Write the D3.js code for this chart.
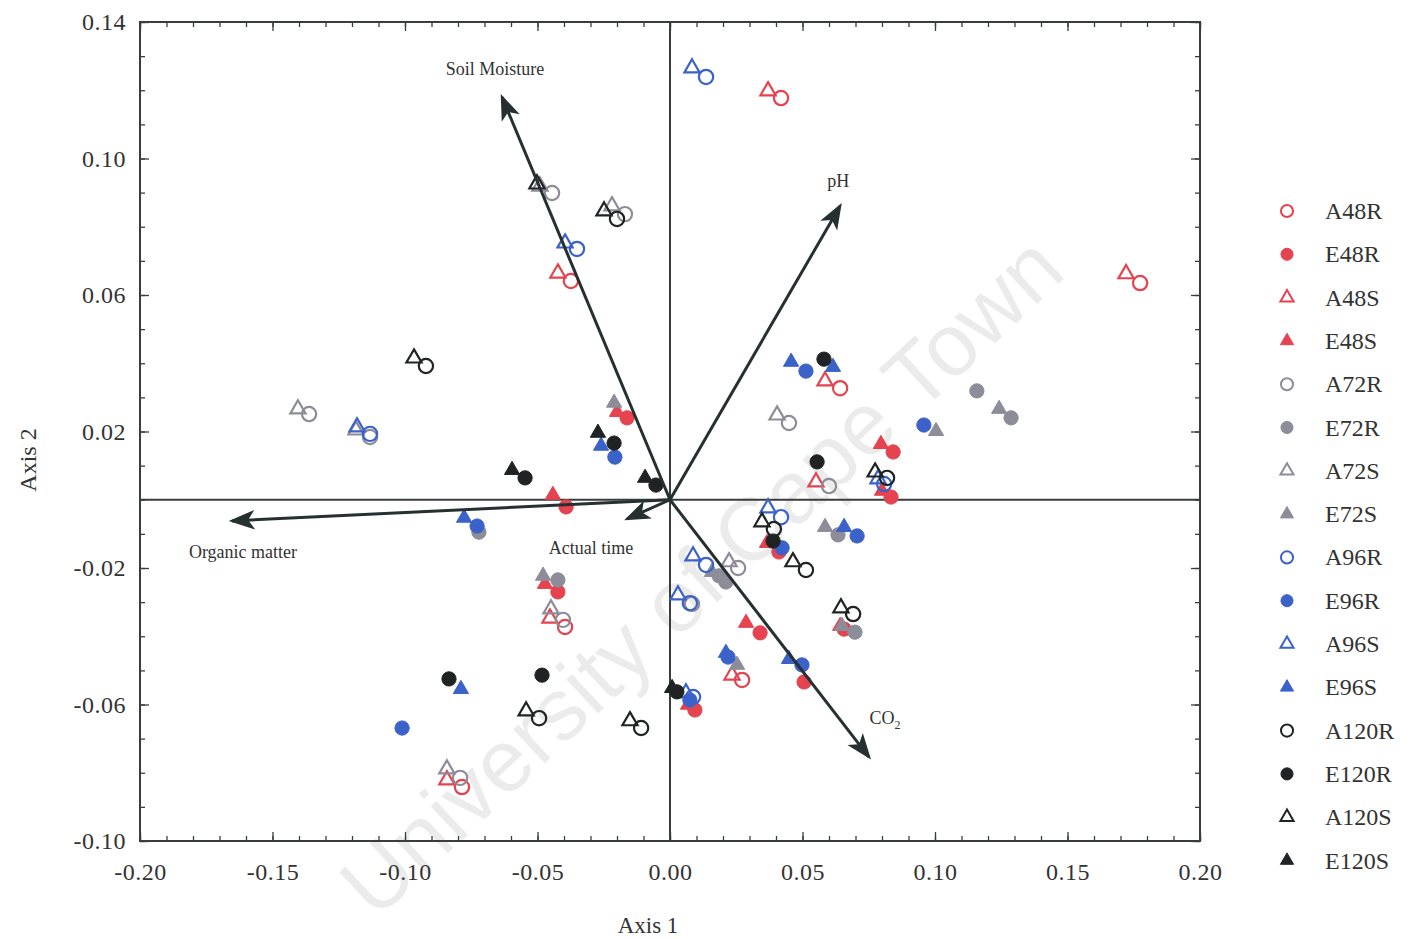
<!DOCTYPE html>
<html><head><meta charset="utf-8">
<script src="https://cdn.jsdelivr.net/npm/d3@7"></script>
<style>
body{margin:0;background:#fff;}
text{font-family:"Liberation Serif","Times New Roman",serif;}
</style>
</head><body>
<svg id="chart" width="1411" height="939"></svg>
<script>
// ---------------- DATA ----------------
const seriesNames = ["A48R","E48R","A48S","E48S","A72R","E72R","A72S","E72S","A96R","E96R","A96S","E96S","A120R","E120R","A120S","E120S"];
const groupColors = {"48":"#e4434f","72":"#8d8d99","96":"#3b62c9","120":"#1f2323"};

const A48R = [[0.0419,0.1177],[0.1774,0.0635],[-0.0374,0.0641],[0.0642,0.0327],[-0.0396,-0.0373],[0.0272,-0.0528],[-0.0785,-0.0842]];
const A48S = [[0.0370,0.1198],[0.1721,0.0662],[-0.0423,0.0664],[0.0585,0.0348],[0.0551,0.0052],[-0.0453,-0.0347],[0.0234,-0.0514],[-0.0842,-0.0821]];
const E48R = [[-0.0162,0.0240],[-0.0392,-0.0021],[0.0842,0.0140],[0.0834,0.0008],[0.0411,-0.0153],[0.0340,-0.0390],[-0.0423,-0.0270],[0.0506,-0.0534],[0.0094,-0.0616],[0.0657,-0.0379]];
const E48S = [[-0.0200,0.0257],[-0.0442,0.0014],[0.0796,0.0163],[0.0800,0.0026],[0.0287,-0.0361],[-0.0472,-0.0247],[0.0068,-0.0601],[0.0642,-0.0370],[0.0366,-0.0127]];
const A72R = [[-0.0445,0.0899],[-0.0170,0.0837],[-0.1362,0.0251],[0.0449,0.0225],[0.0600,0.0040],[0.0257,-0.0200],[-0.0404,-0.0352],[-0.0792,-0.0815],[-0.1132,0.0184],[0.0083,-0.0305]];
const A72S = [[-0.0491,0.0919],[-0.0219,0.0861],[-0.1404,0.0266],[0.0404,0.0248],[0.0223,-0.0182],[-0.0449,-0.0320],[-0.0842,-0.0789],[-0.1185,0.0204]];
const E72R = [[0.1158,0.0319],[0.1287,0.0240],[0.0634,-0.0103],[0.0185,-0.0223],[0.0211,-0.0241],[0.0698,-0.0388],[-0.0423,-0.0235],[-0.0721,-0.0095]];
const E72S = [[-0.0211,0.0284],[0.1242,0.0266],[0.1004,0.0201],[0.0585,-0.0080],[-0.0479,-0.0223],[0.0253,-0.0484],[0.0649,-0.0370],[0.0158,-0.0212]];
const A96R = [[0.0136,0.1239],[-0.0351,0.0735],[-0.1132,0.0193],[0.0808,0.0046],[0.0419,-0.0051],[0.0136,-0.0191],[0.0075,-0.0303],[0.0087,-0.0578]];
const A96S = [[0.0083,0.1265],[-0.0396,0.0752],[-0.1181,0.0213],[0.0370,-0.0024],[0.0087,-0.0165],[0.0030,-0.0279],[0.0785,0.0061],[0.0060,-0.0566]];
const E96R = [[-0.0208,0.0125],[-0.0728,-0.0077],[0.0513,0.0377],[0.0958,0.0219],[0.0706,-0.0106],[0.0423,-0.0141],[0.0219,-0.0461],[0.0498,-0.0484],[-0.1011,-0.0669],[0.0075,-0.0587]];
const E96S = [[-0.0260,0.0158],[-0.0777,-0.0053],[0.0457,0.0404],[0.0615,0.0389],[0.0657,-0.0080],[0.0449,-0.0467],[-0.0789,-0.0555],[0.0211,-0.0449]];
const A120R = [[-0.0200,0.0823],[-0.0921,0.0392],[0.0819,0.0064],[0.0392,-0.0086],[0.0513,-0.0206],[0.0691,-0.0335],[-0.0494,-0.0640],[-0.0109,-0.0669]];
const A120S = [[-0.0502,0.0925],[-0.0249,0.0846],[-0.0966,0.0415],[0.0774,0.0081],[0.0347,-0.0065],[0.0464,-0.0182],[0.0645,-0.0317],[-0.0543,-0.0619],[-0.0151,-0.0648]];
const E120R = [[-0.0211,0.0166],[-0.0547,0.0064],[-0.0053,0.0043],[0.0581,0.0412],[0.0555,0.0111],[0.0389,-0.0121],[-0.0834,-0.0525],[-0.0483,-0.0514],[0.0026,-0.0563]];
const E120S = [[-0.0272,0.0196],[-0.0596,0.0087],[-0.0094,0.0064],[0.0008,-0.0552]];

const seriesData = {A48R,E48R,A48S,E48S,A72R,E72R,A72S,E72S,A96R,E96R,A96S,E96S,A120R,E120R,A120S,E120S};

// Biplot vectors
const vectorNames = ["Soil Moisture","pH","Organic matter","Actual time","CO2"];
const vectorX = [-0.0634, 0.0642, -0.1653, -0.0162, 0.0751];
const vectorY = [0.1180, 0.0861, -0.0062, -0.0056, -0.0754];

// Axis ticks
const xTickValues = [-0.20,-0.15,-0.10,-0.05,0.00,0.05,0.10,0.15,0.20];
const xTickLabels = ["-0.20","-0.15","-0.10","-0.05","0.00","0.05","0.10","0.15","0.20"];
const yTickValues = [0.14,0.10,0.06,0.02,-0.02,-0.06,-0.10];
const yTickLabels = ["0.14","0.10","0.06","0.02","-0.02","-0.06","-0.10"];
const xTitle = "Axis 1", yTitle = "Axis 2";

// ---------------- CHART ----------------
const svg = d3.select("#chart");
const L = 140, R = 1200, T = 22, B = 841;
const x = d3.scaleLinear().domain([-0.20,0.20]).range([L,R]);
const y = d3.scaleLinear().domain([-0.10,0.14]).range([B,T]);
const axisColor = "#3a3d3d";

// watermark
svg.append("text")
  .attr("transform","translate(722,598) rotate(-43)")
  .attr("text-anchor","middle")
  .style("font-family","'Liberation Sans',Arial,sans-serif")
  .style("font-size","88px")
  .attr("fill","#000").attr("fill-opacity",0.08)
  .text("University of Cape Town");

// minor & major ticks (inside)
const minorX = d3.range(-20,21).map(d=>d/100);
const minorY = d3.range(-10,15).map(d=>d/100);
function styleAxis(g){ g.select(".domain").remove(); g.selectAll("line").attr("stroke",axisColor).attr("stroke-width",1.3); }

svg.append("g").attr("transform",`translate(0,${B})`)
  .call(d3.axisBottom(x).tickValues(minorX).tickSize(-5).tickFormat("")).call(styleAxis);
svg.append("g").attr("transform",`translate(0,${T})`)
  .call(d3.axisTop(x).tickValues(minorX).tickSize(-5).tickFormat("")).call(styleAxis);
svg.append("g").attr("transform",`translate(${L},0)`)
  .call(d3.axisLeft(y).tickValues(minorY).tickSize(-5).tickFormat("")).call(styleAxis);
svg.append("g").attr("transform",`translate(${R},0)`)
  .call(d3.axisRight(y).tickValues(minorY).tickSize(-5).tickFormat("")).call(styleAxis);

const gx = svg.append("g").attr("transform",`translate(0,${B})`)
  .call(d3.axisBottom(x).tickValues(xTickValues).tickSize(-9).tickPadding(22)
    .tickFormat((d,i)=>xTickLabels[i])).call(styleAxis);
gx.selectAll("text").style("font-size","24px").style("letter-spacing","0.5px").attr("fill","#333");
svg.append("g").attr("transform",`translate(0,${T})`)
  .call(d3.axisTop(x).tickValues(xTickValues).tickSize(-9).tickFormat("")).call(styleAxis);

const gy = svg.append("g").attr("transform",`translate(${L},0)`)
  .call(d3.axisLeft(y).tickValues(yTickValues).tickSize(-9).tickPadding(14)
    .tickFormat((d,i)=>yTickLabels[i])).call(styleAxis);
gy.selectAll("text").style("font-size","24px").style("letter-spacing","0.5px").attr("fill","#333");
svg.append("g").attr("transform",`translate(${R},0)`)
  .call(d3.axisRight(y).tickValues(yTickValues).tickSize(-9).tickFormat("")).call(styleAxis);

// frame
svg.append("rect").attr("x",L).attr("y",T).attr("width",R-L).attr("height",B-T)
  .attr("fill","none").attr("stroke",axisColor).attr("stroke-width",2);

// zero lines
svg.append("line").attr("x1",x(0)).attr("x2",x(0)).attr("y1",T).attr("y2",B)
  .attr("stroke",axisColor).attr("stroke-width",2);
svg.append("line").attr("x1",L).attr("x2",R).attr("y1",y(0)).attr("y2",y(0))
  .attr("stroke",axisColor).attr("stroke-width",2);

// axis titles
svg.append("text").attr("x",648).attr("y",933).attr("text-anchor","middle")
  .style("font-size","23px").attr("fill","#333").text(xTitle);
svg.append("text").attr("transform","translate(36,460) rotate(-90)").attr("text-anchor","middle")
  .style("font-size","24px").attr("fill","#333").text(yTitle);

// ---------------- POINTS ----------------
function seriesStyle(name){
  const grp = name.slice(1,-1);
  return {color: groupColors[grp], filled: name[0]==="E", tri: name.slice(-1)==="S"};
}
const symCircle = d3.symbol().type(d3.symbolCircle).size(160);
const symTri = d3.symbol().type(d3.symbolTriangle).size(100);
const ptLayer = svg.append("g");
seriesNames.forEach(name=>{
  const st = seriesStyle(name);
  ptLayer.append("g").selectAll("path").data(seriesData[name]).join("path")
    .attr("transform",d=>`translate(${x(d[0])},${y(d[1])})`)
    .attr("d", st.tri ? symTri : symCircle)
    .attr("fill", st.filled ? st.color : "none")
    .attr("stroke", st.color)
    .attr("stroke-width", st.filled ? 1 : 2.2);
});

// ---------------- VECTORS ----------------
const defs = svg.append("defs");
defs.append("marker").attr("id","ah").attr("viewBox","0 -6 16 12")
  .attr("refX",14).attr("refY",0).attr("markerWidth",26).attr("markerHeight",20)
  .attr("markerUnits","userSpaceOnUse").attr("orient","auto")
  .append("path").attr("d","M0,-6L16,0L0,6L4,0Z").attr("fill","#263030");

const vLayer = svg.append("g");
vectorNames.forEach((n,i)=>{
  vLayer.append("line").attr("x1",x(0)).attr("y1",y(0))
    .attr("x2",x(vectorX[i])).attr("y2",y(vectorY[i]))
    .attr("stroke","#263030").attr("stroke-width",3).attr("marker-end","url(#ah)");
});
const labelOffsets = [[-7,-22],[-2,-19],[11,37],[-36,35],[16,-33]];
vectorNames.forEach((n,i)=>{
  const t = vLayer.append("text")
    .attr("x",x(vectorX[i])+labelOffsets[i][0]).attr("y",y(vectorY[i])+labelOffsets[i][1])
    .attr("text-anchor","middle").style("font-size","18px").attr("fill","#333");
  if(n==="CO2"){
    t.append("tspan").text("CO");
    t.append("tspan").attr("dy",5).style("font-size","12px").text("2");
  } else t.text(n);
});

// ---------------- LEGEND ----------------
const legend = svg.append("g");
const legSymC = d3.symbol().type(d3.symbolCircle).size(115);
const legSymT = d3.symbol().type(d3.symbolTriangle).size(75);
seriesNames.forEach((name,i)=>{
  const st = seriesStyle(name);
  const yy = 211 + i*43.3;
  legend.append("path").attr("transform",`translate(1287,${yy})`)
    .attr("d", st.tri ? legSymT : legSymC)
    .attr("fill", st.filled ? st.color : "none")
    .attr("stroke", st.color).attr("stroke-width", st.filled ? 1 : 2);
  legend.append("text").attr("x",1325).attr("y",yy+8)
    .style("font-size","24px").attr("fill","#333").text(name);
});
</script>
</body></html>
